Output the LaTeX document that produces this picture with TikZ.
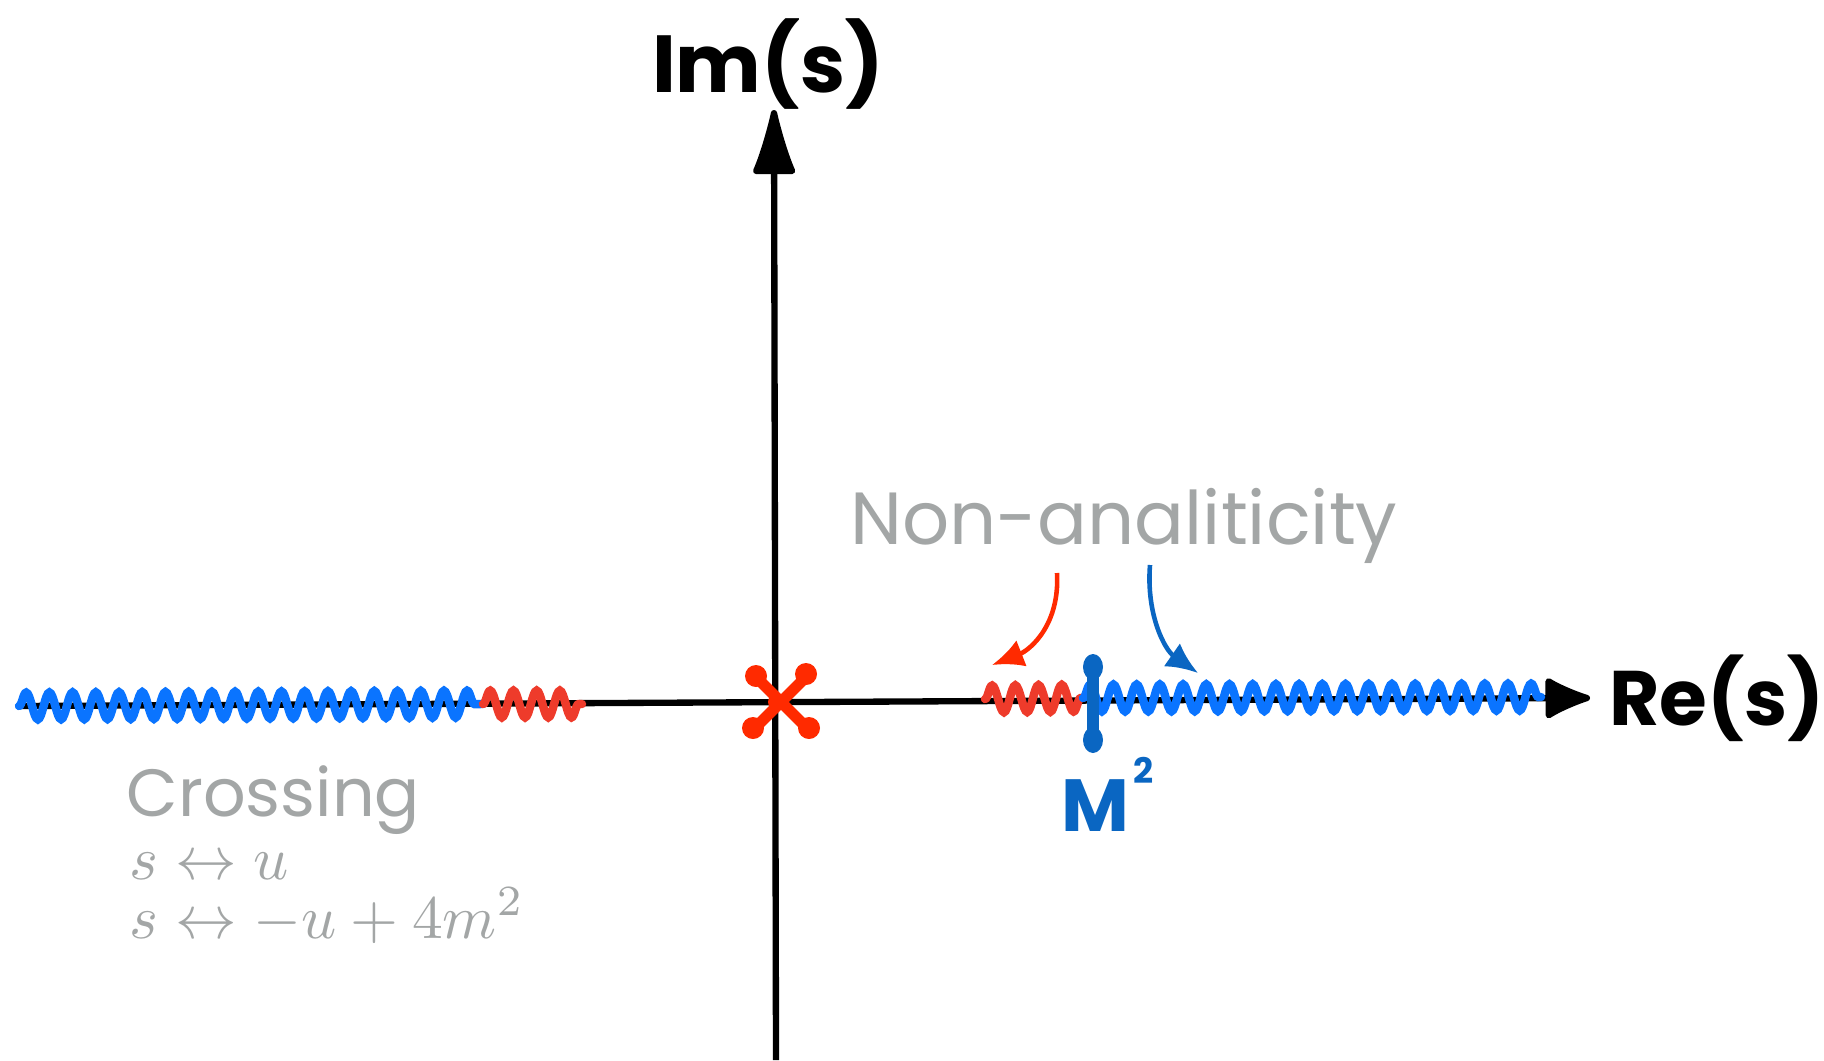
\documentclass[tikz,border=0pt]{standalone}
\usepackage{fontspec}
\newfontfamily\handfont{Poppins}
\usetikzlibrary{arrows.meta,decorations.pathmorphing}
\definecolor{crossred}{HTML}{FF2A00}
\definecolor{cutred}{HTML}{EE3B2B}
\definecolor{cutblue}{HTML}{0A74FF}
\definecolor{poleblue}{HTML}{0A66C2}
\definecolor{notegray}{HTML}{A3A6A6}
\tikzset{
  axis/.style={line width=1.8pt},
  cut/.style={line width=2.4pt, line cap=round, decorate,
    decoration={snake, amplitude=3.8pt, segment length=6.6pt}},
  hint/.style={line width=1.3pt, -{Latex[length=9pt,width=8pt]}},
  swaptext/.style={notegray, scale=1.75, anchor=base west, inner sep=0pt},
}
\begin{document}
\begin{tikzpicture}[x=0.01cm, y=-0.01cm]
	\useasboundingbox (0,0) rectangle (1824,1060);
	% Axes
	\coordinate (origin) at (776,702);
	\coordinate (reA) at (19,706);
	\coordinate (reB) at (1590,698);
	\coordinate (imA) at (776,1060);
	\coordinate (imB) at (774,110);
	\draw[axis, -{Latex[round,length=15pt,width=13pt]}] (reA) -- (reB);
	\draw[axis, -{Latex[round,length=22pt,width=13pt]}] (imA) -- (imB);
	\node[font=\handfont\bfseries\fontsize{23}{23}\selectfont] (imlabel) at (768,64) {Im(s)};
	\node[font=\handfont\bfseries\fontsize{22}{22}\selectfont] (relabel) at (1717,698) {Re(s)};
	
	% Branch cuts
	\coordinate (c1) at (483,704);
	\coordinate (c2) at (582,704);
	\coordinate (c3) at (985,699);
	\coordinate (c4) at (1083,698);
	\coordinate (c5) at (1541,697);
	\draw[cut, cutblue] (reA) -- (c1);
	\draw[cut, cutred] (c1) -- (c2);
	\draw[cut, cutred] (c3) -- (c4);
	\draw[cut, cutblue] (c4) -- (c5);
	
	% Pole at origin
	\draw[crossred, line width=3.2pt] (755,676) -- (808,729) (754,729) -- (808,675);
	\foreach \px/\py in {756/676, 806/674, 753/728, 809/728}
		\fill[crossred] (\px,\py) circle (11);
	\fill[crossred] (origin) circle (8);
	
	% Resonance pole
	\coordinate (poleT) at (1093,667);
	\coordinate (poleB) at (1093,740);
	\draw[poleblue, line width=3.4pt] (poleT) -- (poleB);
	\fill[poleblue] (poleT) ellipse (10 and 13);
	\fill[poleblue] (poleB) ellipse (10 and 13);
	\node[poleblue, font=\handfont\bfseries\fontsize{21}{21}\selectfont] (mass) at (1095,806) {M};
	\node[poleblue, font=\handfont\bfseries\fontsize{10}{10}\selectfont] (masssq) at (1144,770) {2};
	
	% Non-analiticity
	\node[notegray, font=\handfont\fontsize{21}{21}\selectfont] (nonan) at (1124,526) {Non-analiticity};
	\coordinate (redA) at (1057,573);
	\coordinate (redB) at (992,665);
	\coordinate (blueA) at (1150,565);
	\coordinate (blueB) at (1198,673);
	\draw[hint, crossred] (redA) .. controls (1060,625) and (1030,650) .. (redB);
	\draw[hint, poleblue] (blueA) .. controls (1146,615) and (1165,650) .. (blueB);
	
	% Crossing
	\node[notegray, font=\handfont\fontsize{19}{19}\selectfont, anchor=base west, inner sep=0pt] (crossing) at (126,816) {Crossing};
	\node[swaptext] (swap1) at (128,879) {$s\leftrightarrow u$};
	\node[swaptext] (swap2) at (128,938) {$s\leftrightarrow -u+4m^2$};
\end{tikzpicture}
\end{document}
